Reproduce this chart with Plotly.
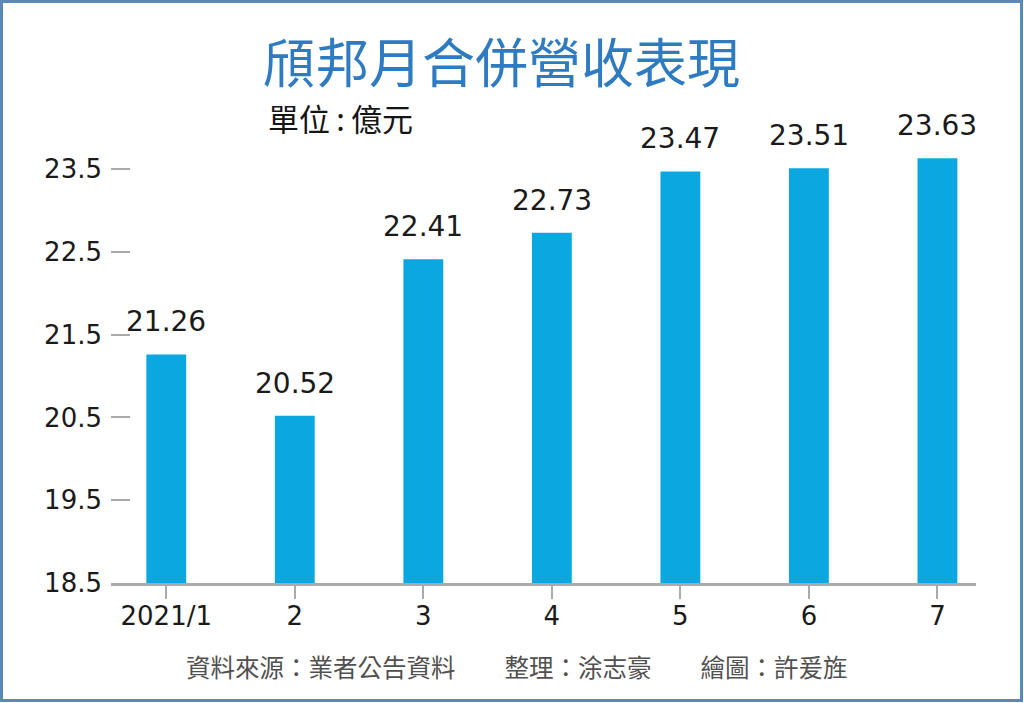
import plotly.graph_objects as go

# monthly consolidated revenue, 100M TWD
months = ["2021/1", "2", "3", "4", "5", "6", "7"]
revenue = [21.26, 20.52, 22.41, 22.73, 23.47, 23.51, 23.63]
y_ticks = [18.5, 19.5, 20.5, 21.5, 22.5, 23.5]

W, H = 1024, 703
L, R, T, B = 111, 48, 120, 120
pw, ph = W - L - R, H - T - B


def px(x):
    return (x - L) / pw


def py(y):
    return (H - B - y) / ph


num_font = "DejaVu Sans, Arial, sans-serif"
cjk_font = "Noto Sans CJK TC, sans-serif"

idx = list(range(len(months)))

fig = go.Figure(go.Bar(
    x=idx, y=revenue, width=0.31,
    marker=dict(color="#0aa7e1", line=dict(width=0)),
    hoverinfo="skip",
))

for i, v in zip(idx, revenue):
    fig.add_annotation(x=i, y=v, text=f"{v:.2f}", showarrow=False,
                       yanchor="bottom", yshift=14,
                       font=dict(family=num_font, size=28, color="#1a1a1a"))

fig.add_annotation(xref="paper", yref="paper", x=px(501), y=py(60),
                   text="頎邦月合併營收表現", showarrow=False,
                   xanchor="center", yanchor="middle",
                   font=dict(family=cjk_font, size=53, color="#2f7bc1"))
fig.add_annotation(xref="paper", yref="paper", x=px(266), y=py(118),
                   text="單位\u2009:\u2009億元", showarrow=False,
                   xanchor="left", yanchor="middle",
                   font=dict(family=cjk_font, size=31, color="#151515"))
fig.add_annotation(xref="paper", yref="paper", x=px(517), y=py(666),
                   text="資料來源：業者公告資料　　整理：涂志豪　　繪圖：許爰旌",
                   showarrow=False, xanchor="center", yanchor="middle",
                   font=dict(family=cjk_font, size=24.5, color="#505050"))

fig.add_shape(type="rect", xref="paper", yref="paper",
              x0=px(1.5), x1=px(W - 2.5), y0=py(H - 2.5), y1=py(1.5),
              line=dict(color="#5b88b9", width=3))

fig.update_layout(
    width=W, height=H,
    margin=dict(l=L, r=R, t=T, b=B),
    paper_bgcolor="white", plot_bgcolor="white",
    showlegend=False,
)
fig.update_xaxes(
    range=[-0.43, 6.30],
    tickvals=idx, ticktext=months,
    showline=True, linecolor="#aaaaaa", linewidth=3,
    ticks="outside", ticklen=13, tickwidth=2, tickcolor="#aaaaaa",
    showgrid=False, zeroline=False,
    ticklabelstandoff=-5,
    tickfont=dict(family=num_font, size=26, color="#1a1a1a"),
)
fig.update_yaxes(
    range=[18.5, 18.5 + ph / 82.8],
    tickvals=y_ticks, ticktext=[f"{t:.1f}" for t in y_ticks],
    ticks="inside", ticklen=19, tickwidth=2, tickcolor="#aaaaaa",
    showline=False, showgrid=False, zeroline=False,
    ticklabelstandoff=8,
    tickfont=dict(family=num_font, size=26, color="#1a1a1a"),
)

fig.write_html("out.html", config={"displayModeBar": False},
               post_script="document.body.style.margin='0';document.body.style.overflow='hidden';")
